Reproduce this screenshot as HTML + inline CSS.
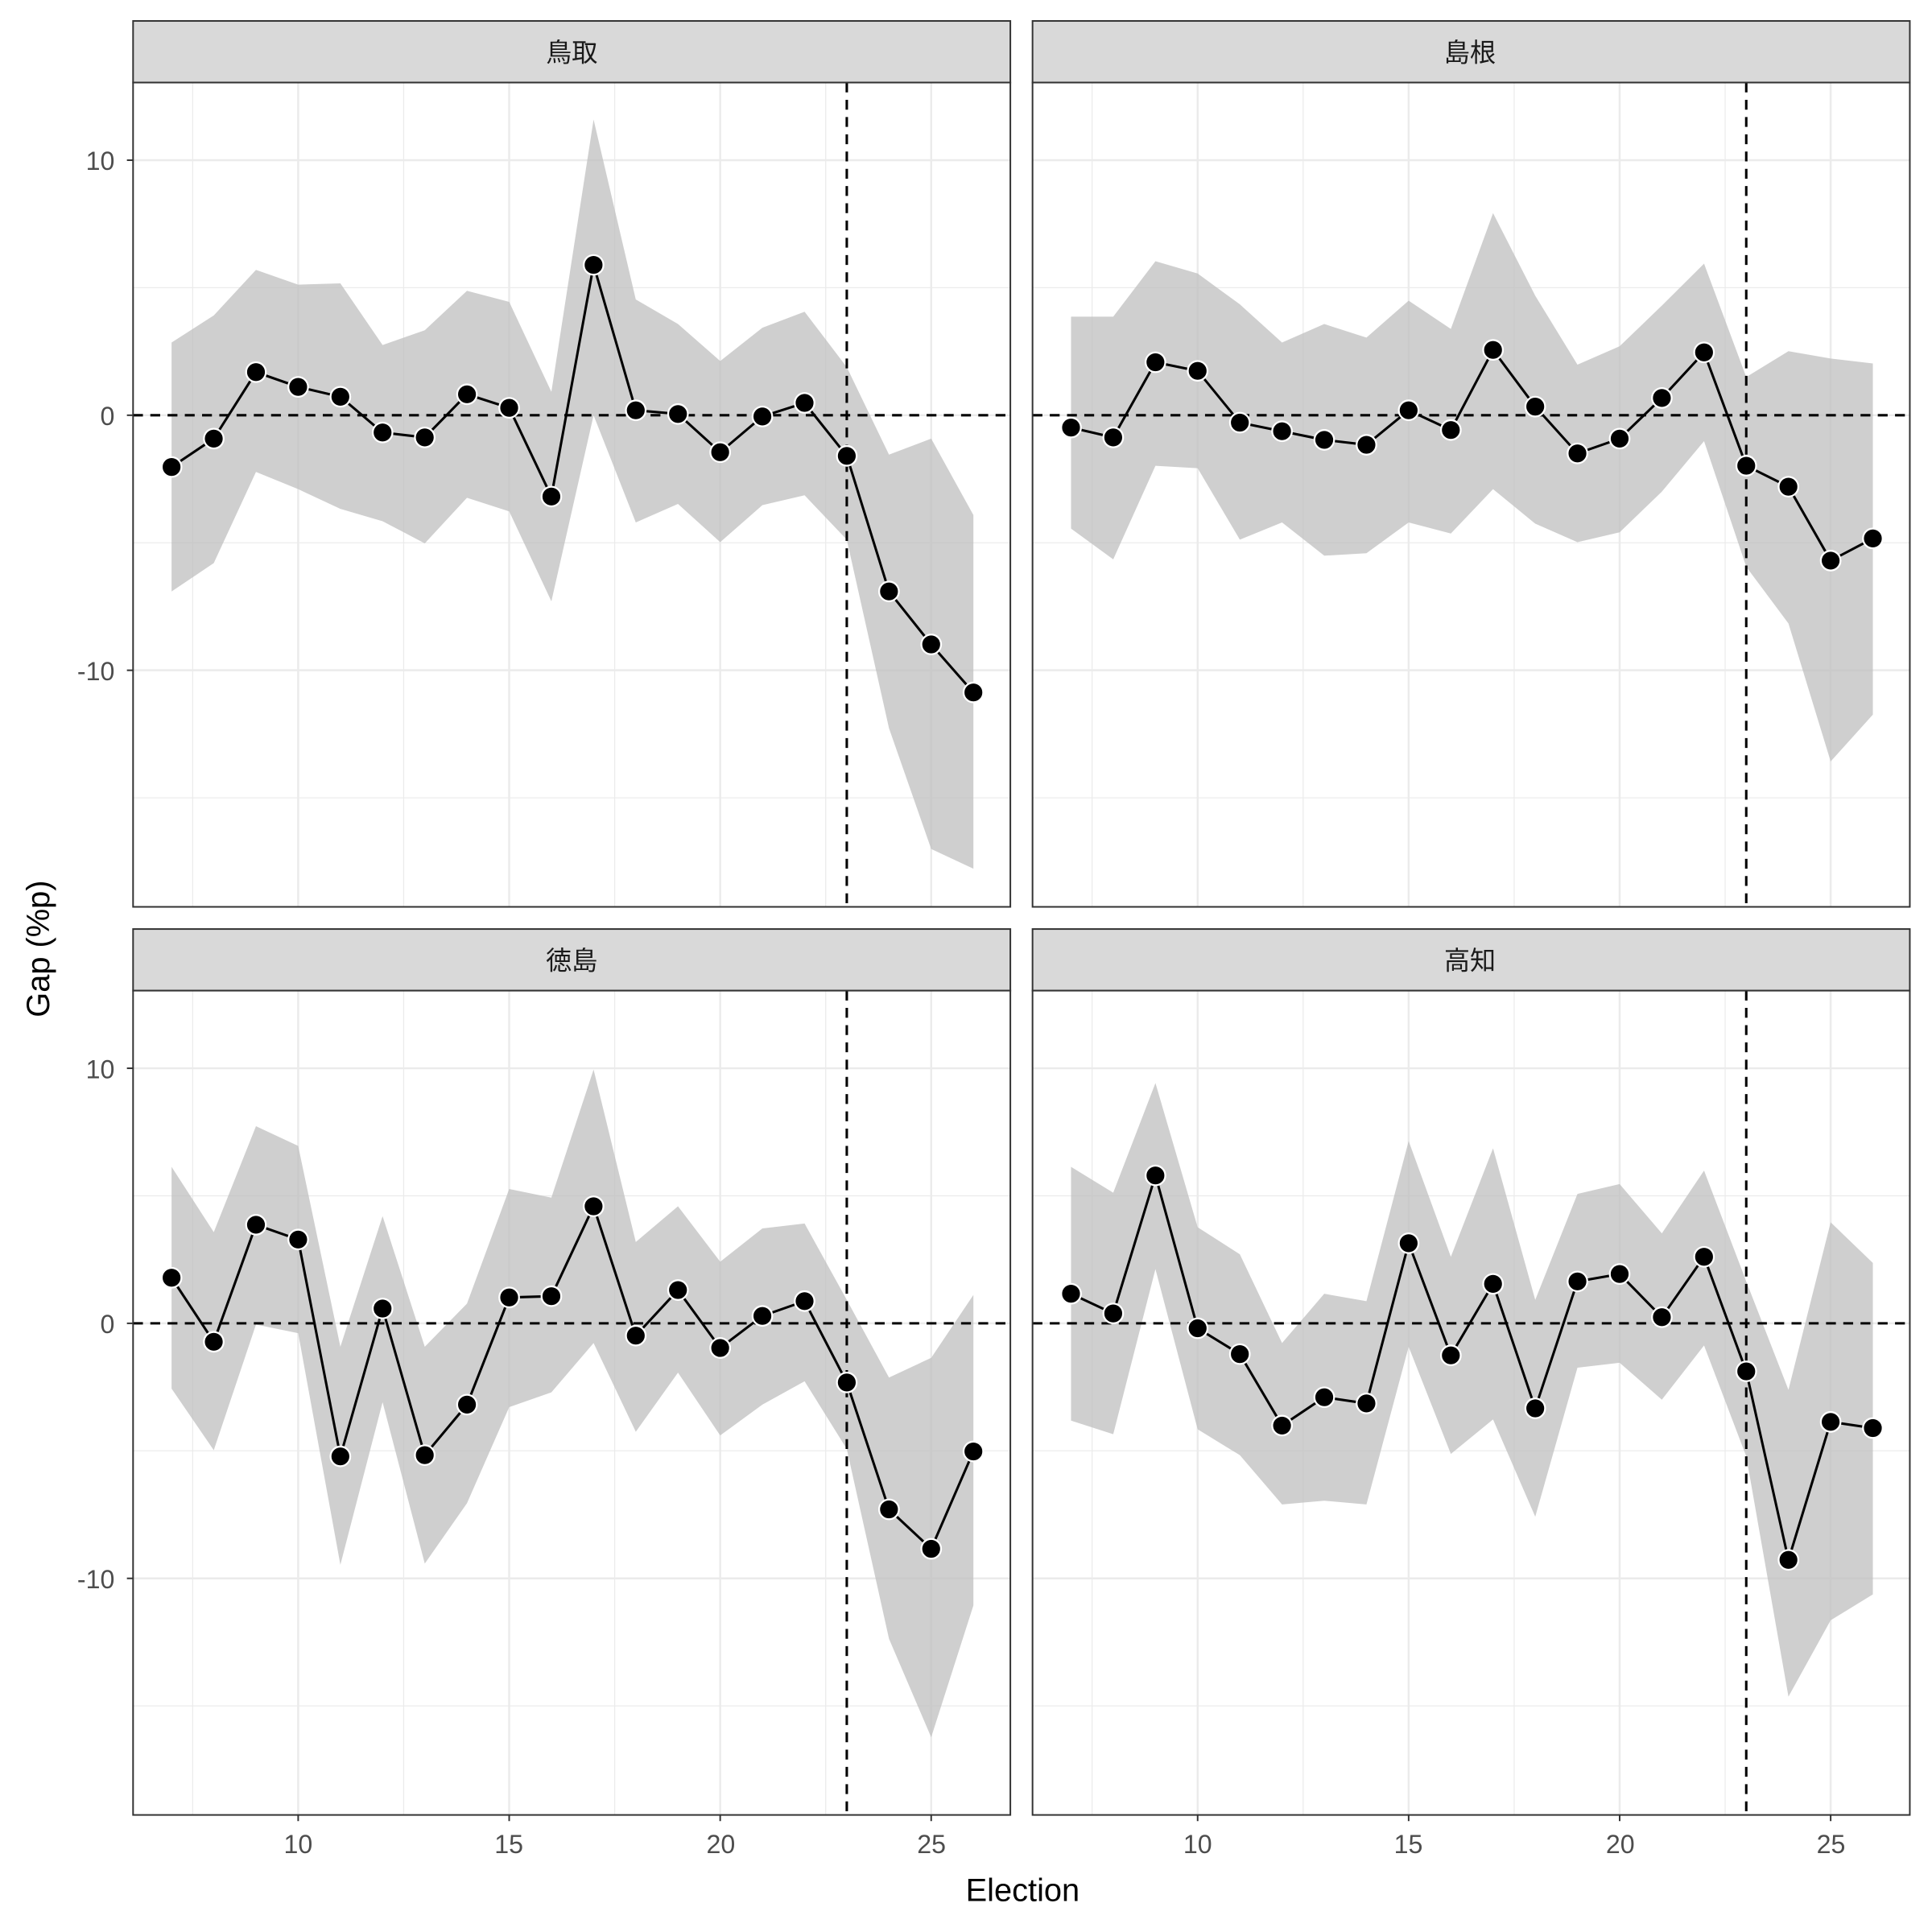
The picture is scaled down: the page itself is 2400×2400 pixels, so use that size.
<!DOCTYPE html>
<html><head><meta charset="utf-8"><style>html,body{margin:0;padding:0;background:#fff}svg{display:block}</style></head>
<body>
<svg id="s" xmlns="http://www.w3.org/2000/svg" width="2400" height="2400" viewBox="0 0 1568 1568" font-family="'Liberation Sans','Noto Sans CJK JP',sans-serif">
<rect width="1568" height="1568" fill="#fff"/>
<g id="g"></g>
<g fill="#4d4d4d" font-size="21" text-anchor="end">
<text x="93" y="138">10</text><text x="93" y="345">0</text><text x="93" y="552">-10</text>
<text x="93" y="875">10</text><text x="93" y="1082">0</text><text x="93" y="1289">-10</text>
</g>
<g fill="#4d4d4d" font-size="21" text-anchor="middle">
<text x="242" y="1504">10</text><text x="413" y="1504">15</text><text x="585" y="1504">20</text><text x="756" y="1504">25</text>
<text x="972" y="1504">10</text><text x="1143" y="1504">15</text><text x="1315" y="1504">20</text><text x="1486" y="1504">25</text>
</g>
<g fill="#1a1a1a" font-size="21" text-anchor="middle">
<text x="464" y="50">鳥取</text><text x="1193" y="50">島根</text>
<text x="464" y="787">徳島</text><text x="1193" y="787">高知</text>
</g>
<text x="830" y="1543" font-size="26" text-anchor="middle">Election</text>
<text transform="translate(40,770) rotate(-90)" font-size="26" text-anchor="middle">Gap (%p)</text>
</svg>
<script>
const P=[
{ox:0,oy:0,
p:[379,356,302,314,322,351,355,320,331,403,215,333,336,367,338,327,370,480,523,562],
u:[278,256,219,231,230,280,268,236,245,318,97,243,263,293,266,253,298,369,356,418],
l:[480,457,383,397,413,423,441,404,415,488,337,424,409,440,410,402,438,591,689,705]},
{ox:730,oy:0,
p:[347,355,294,301,343,350,357,361,333,349,284,330,368,356,323,286,378,395,455,437],
u:[257,257,212,222,247,278,263,274,244,267,173,240,296,281,248,214,306,285,291,295],
l:[429,454,378,380,438,424,451,449,424,433,397,425,440,432,399,358,460,506,618,580]},
{ox:0,oy:737,
p:[1037,1089,994,1006,1182,1062,1181,1140,1053,1052,979,1084,1047,1094,1068,1056,1122,1225,1257,1178],
u:[947,1000,914,930,1093,987,1093,1058,965,972,868,1008,979,1024,997,993,1055,1118,1102,1051],
l:[1127,1177,1075,1082,1270,1138,1269,1220,1142,1130,1090,1162,1114,1165,1140,1121,1176,1330,1410,1303]},
{ox:730,oy:737,
p:[1050,1066,954,1078,1099,1157,1134,1139,1009,1100,1042,1143,1040,1034,1069,1020,1113,1266,1154,1159],
u:[947,968,879,996,1018,1090,1050,1056,926,1020,932,1055,969,961,1001,950,1040,1128,992,1025],
l:[1153,1164,1030,1160,1181,1221,1218,1221,1093,1180,1152,1231,1110,1106,1136,1092,1182,1377,1315,1294]}];
let h='';
const X=e=>242+(e-10)*34.25;
for(const q of P){
 const ox=q.ox,oy=q.oy,L=108+ox,R=820+ox,T=67+oy,B=736+oy;
 h+=`<rect x="${L}" y="${17+oy}" width="${R-L}" height="50" fill="#d9d9d9" stroke="#333" stroke-width="1.3"/>`;
 h+=`<rect x="${L}" y="${T}" width="${R-L}" height="${B-T}" fill="#fff"/>`;
 for(const e of [7.5,12.5,17.5,22.5]) h+=`<line x1="${X(e)+ox}" x2="${X(e)+ox}" y1="${T}" y2="${B}" stroke="#ebebeb" stroke-width="0.8"/>`;
 for(const v of [5,-5,-15]){const y=337-v*20.7+oy;h+=`<line x1="${L}" x2="${R}" y1="${y}" y2="${y}" stroke="#ebebeb" stroke-width="0.8"/>`;}
 for(const e of [10,15,20,25]) h+=`<line x1="${X(e)+ox}" x2="${X(e)+ox}" y1="${T}" y2="${B}" stroke="#ebebeb" stroke-width="1.6"/>`;
 for(const v of [10,0,-10]){const y=337-v*20.7+oy;h+=`<line x1="${L}" x2="${R}" y1="${y}" y2="${y}" stroke="#ebebeb" stroke-width="1.6"/>`;}
 let pts=[];
 for(let i=0;i<20;i++)pts.push((X(i+7)+ox)+','+q.u[i]);
 for(let i=19;i>=0;i--)pts.push((X(i+7)+ox)+','+q.l[i]);
 h+=`<polygon points="${pts.join(' ')}" fill="#bfbfbf" fill-opacity="0.75"/>`;
 h+=`<line x1="${L}" x2="${R}" y1="${337+oy}" y2="${337+oy}" stroke="#000" stroke-width="2" stroke-dasharray="8,6"/>`;
 h+=`<line x1="${X(23)+ox}" x2="${X(23)+ox}" y1="${T}" y2="${B}" stroke="#000" stroke-width="2" stroke-dasharray="8,6"/>`;
 h+=`<polyline points="${q.p.map((y,i)=>(X(i+7)+ox)+','+y).join(' ')}" fill="none" stroke="#000" stroke-width="2"/>`;
 q.p.forEach((y,i)=>h+=`<circle cx="${X(i+7)+ox}" cy="${y}" r="8" fill="#000" stroke="#fff" stroke-width="1.5"/>`);
 h+=`<rect x="${L}" y="${T}" width="${R-L}" height="${B-T}" fill="none" stroke="#333" stroke-width="1.3"/>`;
 if(ox==0)for(const v of [10,0,-10]){const y=337-v*20.7+oy;h+=`<line x1="${L-5}" x2="${L}" y1="${y}" y2="${y}" stroke="#333" stroke-width="1.3"/>`;}
 if(oy>0)for(const e of [10,15,20,25])h+=`<line x1="${X(e)+ox}" x2="${X(e)+ox}" y1="${B}" y2="${B+5}" stroke="#333" stroke-width="1.3"/>`;
}
document.getElementById('g').innerHTML=h;
</script>
</body></html>
